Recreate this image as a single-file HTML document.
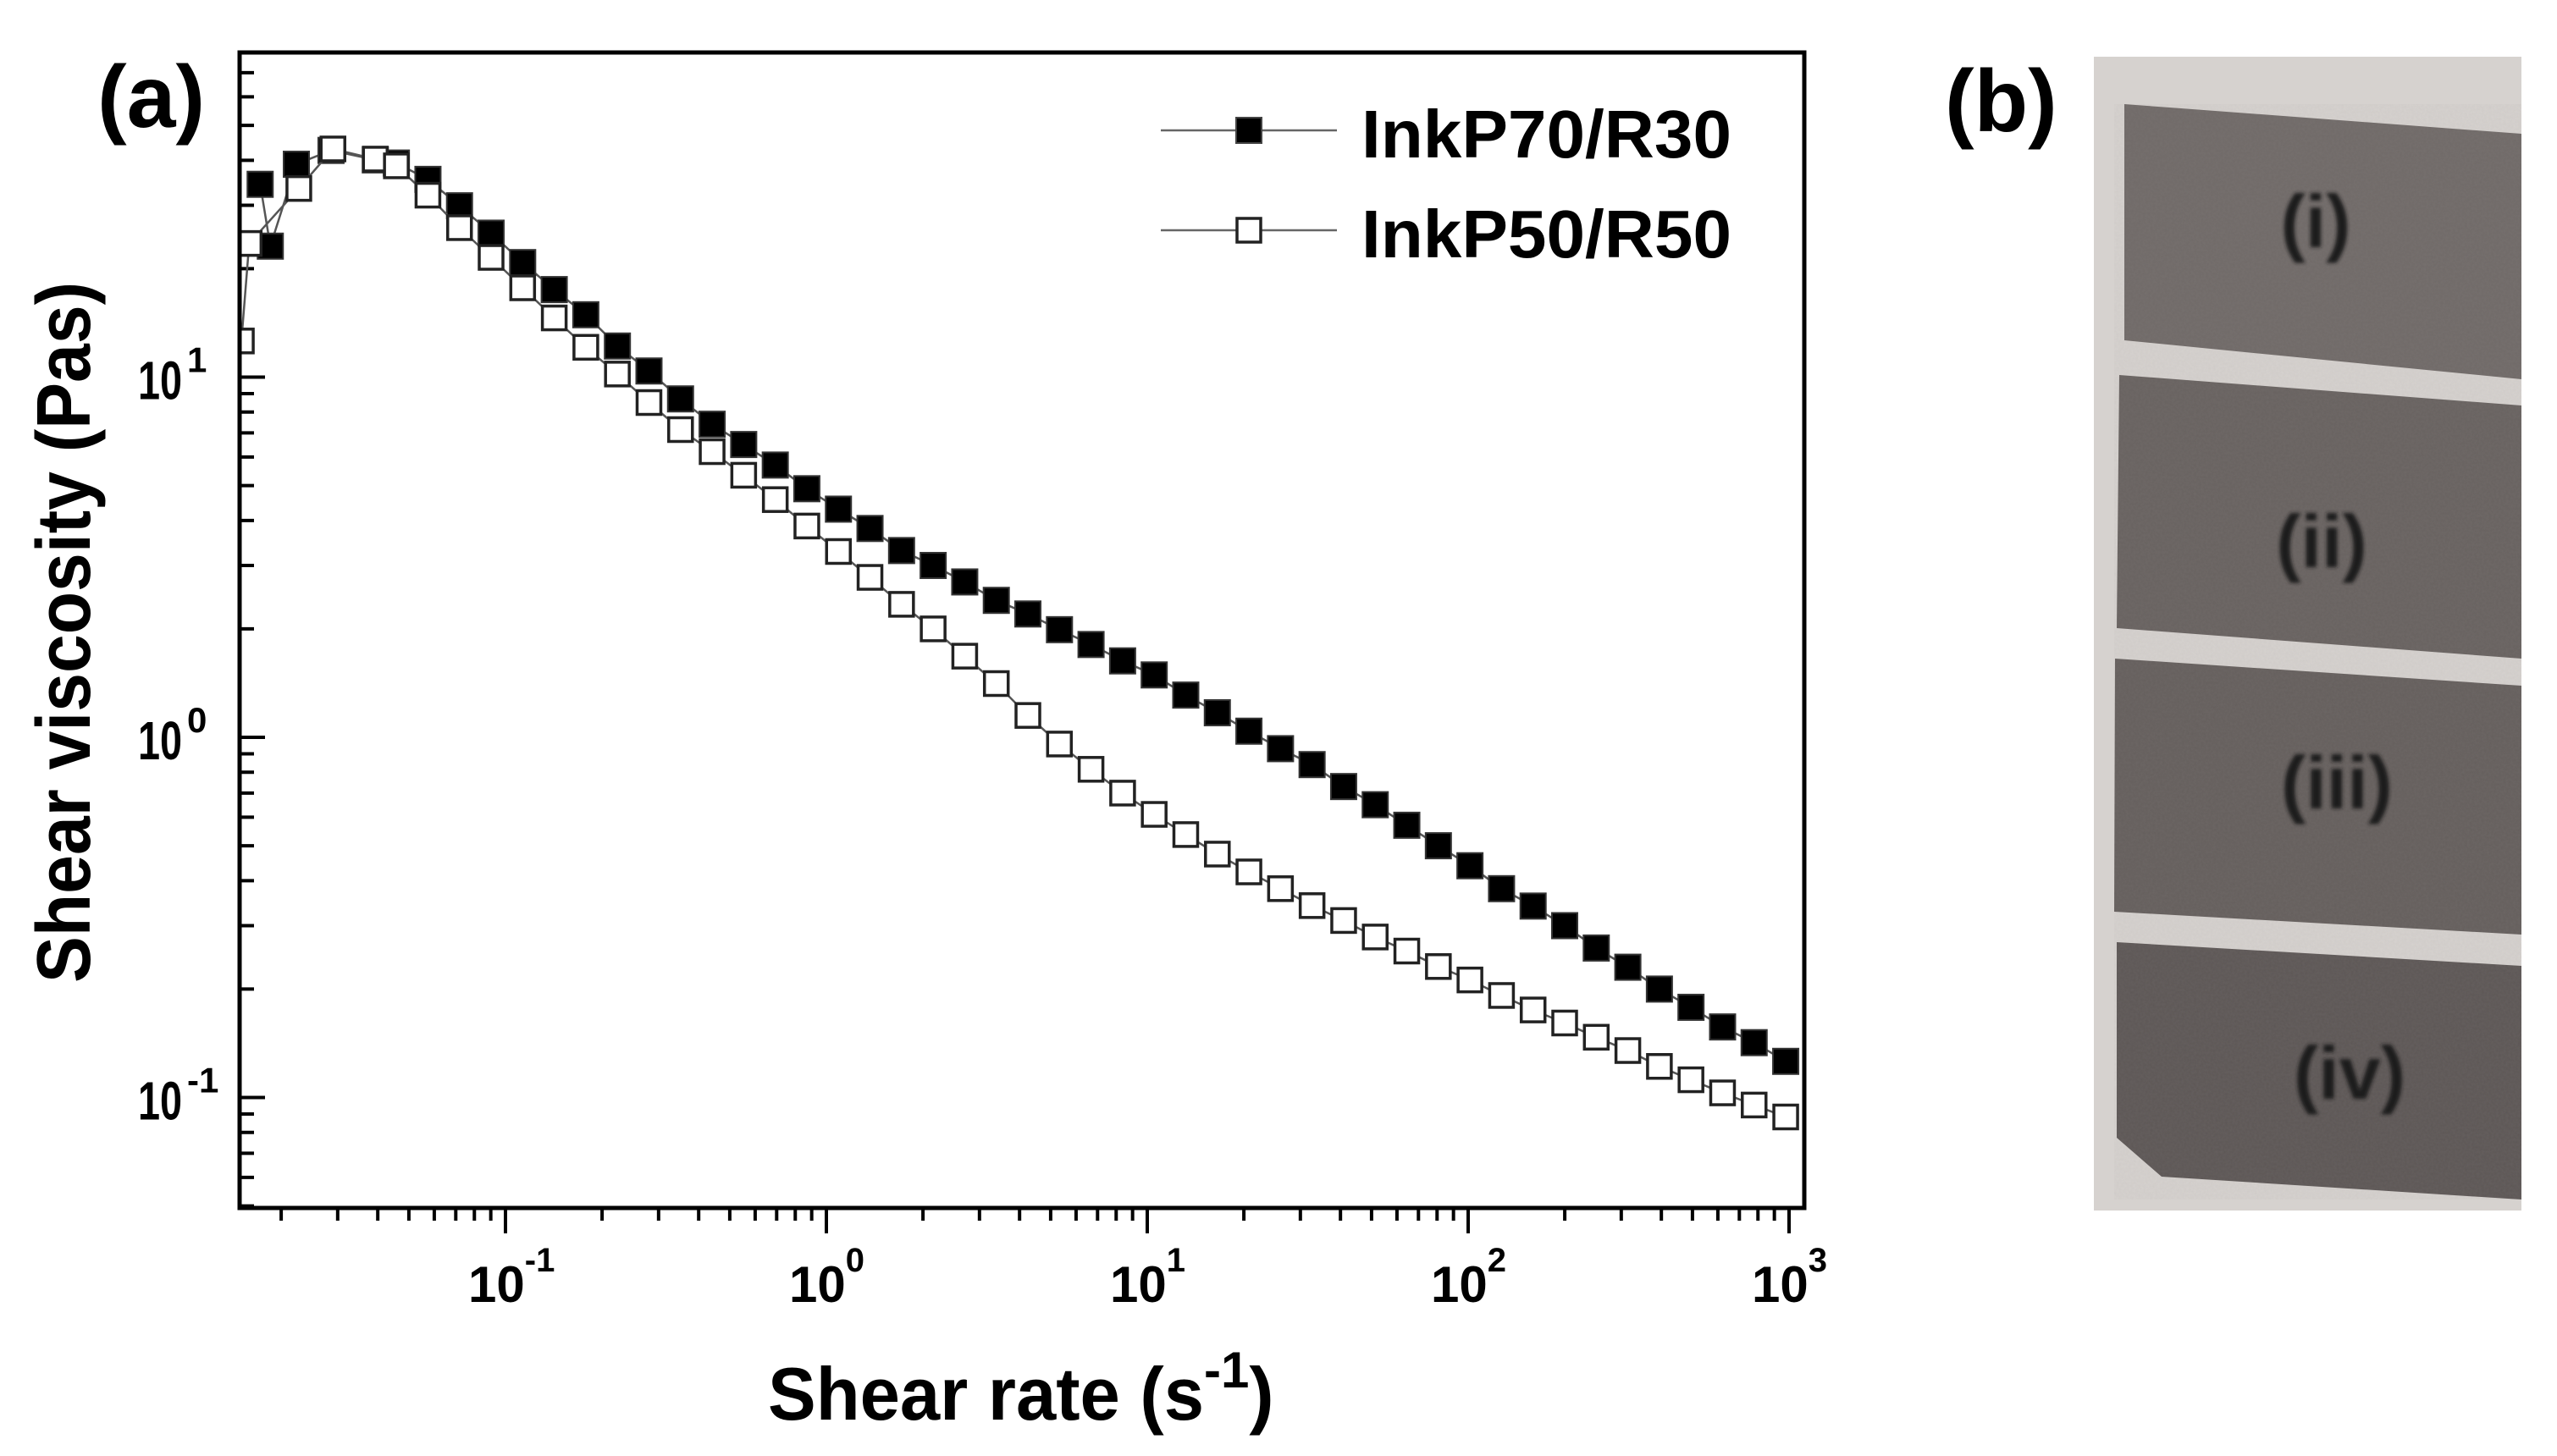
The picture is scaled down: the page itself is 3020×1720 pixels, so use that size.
<!DOCTYPE html>
<html><head><meta charset="utf-8"><style>
html,body{margin:0;padding:0;background:#fff;}
svg{display:block;font-family:"Liberation Sans",sans-serif;}
</style></head><body>
<svg id="chart" width="3020" height="1720" viewBox="0 0 3020 1720">
<defs>
<clipPath id="plotclip"><rect x="283" y="62" width="1848" height="1365"/></clipPath>
<filter id="blur1"><feGaussianBlur stdDeviation="2"/></filter>
<filter id="noise"><feTurbulence type="fractalNoise" baseFrequency="0.35" numOctaves="2" seed="3"/><feColorMatrix type="matrix" values="0 0 0 0 0.35  0 0 0 0 0.33  0 0 0 0 0.32  0 0 0 0.5 0"/><feComposite in2="SourceGraphic" operator="in"/></filter>
</defs>
<g id="axes"></g>
<g id="series" clip-path="url(#plotclip)"></g>
<rect x="283" y="62" width="1848" height="1365" fill="none" stroke="#000" stroke-width="5"/>
<text x="115" y="150" font-size="104" font-weight="bold">(a)</text>
<text x="2297" y="155" font-size="104" font-weight="bold">(b)</text>
<text transform="translate(106,1161) rotate(-90)" font-size="90" font-weight="bold" textLength="828" lengthAdjust="spacingAndGlyphs">Shear viscosity (Pas)</text>
<text x="907" y="1677" font-size="88" font-weight="bold"><tspan textLength="515" lengthAdjust="spacingAndGlyphs">Shear rate (s</tspan><tspan font-size="60" dy="-38">-1</tspan><tspan dy="38">)</tspan></text>
<g>
<g>
<line x1="1371" y1="154" x2="1579" y2="154" stroke="#666" stroke-width="2.5"/>
<rect x="1460" y="139" width="30" height="30" fill="#000" stroke="#444" stroke-width="2"/>
<text x="1608" y="186" font-size="80" font-weight="bold" textLength="437" lengthAdjust="spacingAndGlyphs">InkP70/R30</text>
</g>
<g>
<line x1="1371" y1="272" x2="1579" y2="272" stroke="#666" stroke-width="2.5"/>
<rect x="1461" y="258" width="28" height="28" fill="#fff" stroke="#222" stroke-width="3.5"/>
<text x="1608" y="304" font-size="80" font-weight="bold" textLength="437" lengthAdjust="spacingAndGlyphs">InkP50/R50</text>
</g>
</g>
<g>
<rect x="2473" y="67" width="505" height="1363" fill="#d6d2cf"/>
<polygon points="2509,123 2978,158 2978,448 2509,402" fill="#706a68"/>
<polygon points="2503,443 2978,479 2978,778 2500,742" fill="#686260"/>
<polygon points="2498,778 2978,810 2978,1104 2497,1077" fill="#655f5d"/>
<polygon points="2500,1113 2978,1141 2978,1417 2553,1390 2500,1344" fill="#5d5756"/>
<rect x="2497" y="123" width="481" height="1294" fill="#fff" filter="url(#noise)" opacity="0.25"/>
<g font-size="88" font-weight="bold" fill="#1a1a1a" text-anchor="middle" filter="url(#blur1)">
<text x="2735" y="292">(i)</text>
<text x="2742" y="670">(ii)</text>
<text x="2760" y="955">(iii)</text>
<text x="2775" y="1298">(iv)</text>
</g>
</g>
</svg>
<script>
const earlyRateFilled = [0.0172, 0.0185, 0.0223, 0.0286, 0.0393];
const earlyViscFilled = [34.3, 23.1, 39.0, 42.6, 40.1];
const earlyRateOpen = [0.01503, 0.0159, 0.0227, 0.029, 0.0393];
const earlyViscOpen = [12.6, 23.5, 33.4, 43.0, 40.3];
const gridStartLog = -1.34;
const gridStepLog = 0.0984;
const viscP70 = [39.3,35.4,29.9,25.1,20.8,17.5,14.9,12.2,10.4,8.7,7.4,6.5,5.7,4.9,4.3,3.8,3.3,3.0,2.7,2.4,2.2,1.99,1.81,1.63,1.49,1.31,1.17,1.04,0.93,0.84,0.73,0.65,0.57,0.50,0.44,0.38,0.34,0.30,0.26,0.23,0.20,0.178,0.157,0.142,0.126];
const viscP50 = [38.6,32.0,26.0,21.5,17.7,14.6,12.1,10.2,8.5,7.15,6.21,5.34,4.57,3.86,3.28,2.78,2.34,2.00,1.68,1.41,1.15,0.958,0.815,0.700,0.611,0.537,0.474,0.423,0.380,0.341,0.310,0.279,0.255,0.231,0.212,0.192,0.175,0.161,0.147,0.135,0.122,0.112,0.103,0.0953,0.0883];
const xMajorTicks = [0.1, 1, 10, 100, 1000];
const xTickExponents = ["-1", "0", "1", "2", "3"];
const yMajorTicks = [0.1, 1, 10];
const yTickExponents = ["-1", "0", "1"];

const NS = "http://www.w3.org/2000/svg";
const X0 = 976, XD = 379, Y0 = 871, YD = 425.5;
const XMIN = 283, XMAX = 2131, YMIN = 62, YMAX = 1427;
function xs(v){ return X0 + XD*Math.log10(v); }
function ys(v){ return Y0 - YD*Math.log10(v); }
function mk(tag, attrs, parent){
  const e = document.createElementNS(NS, tag);
  for (const k in attrs) e.setAttribute(k, attrs[k]);
  parent.appendChild(e);
  return e;
}
const axes = document.getElementById('axes');
const series = document.getElementById('series');

for (let d = -2; d <= 3; d++) {
  for (let m = 1; m <= 9; m++) {
    const v = m * Math.pow(10, d);
    const x = xs(v);
    if (x < XMIN + 2 || x > XMAX - 2) continue;
    const major = (m === 1);
    const t = mk('line', {x1:x, y1:YMAX, x2:x, y2:YMAX + (major?30:15), stroke:'#000', 'stroke-width':4}, axes);
    
    
  }
}
xMajorTicks.forEach((v, i) => {
  const x = xs(v);
  const t = mk('text', {x:x-44, y:1538, 'font-size':60, 'font-weight':'bold'}, axes);
  
  
  const a = mk('tspan', {}, t); a.textContent = '10';
  const b = mk('tspan', {dy:-36, 'font-size':40}, t); b.textContent = xTickExponents[i];
});
for (let d = -2; d <= 1; d++) {
  for (let m = 1; m <= 9; m++) {
    const v = m * Math.pow(10, d);
    const y = ys(v);
    if (y < YMIN + 2 || y > YMAX - 2) continue;
    const major = (m === 1);
    const t = mk('line', {x1:XMIN, y1:y, x2:XMIN + (major?30:17), y2:y, stroke:'#000', 'stroke-width':4}, axes);
    
    
  }
}
yMajorTicks.forEach((v, i) => {
  const y = ys(v);
  const t = mk('text', {x:163, y:y+26, 'font-size':64, 'font-weight':'bold'}, axes);
  
  
  const a = mk('tspan', {textLength:52, lengthAdjust:'spacingAndGlyphs'}, t); a.textContent = '10';
  const b = mk('tspan', {dx:6, dy:-32, 'font-size':42}, t); b.textContent = yTickExponents[i];
});

function buildRates(early, n){
  const r = early.slice();
  for (let k = 0; k < n; k++) r.push(Math.pow(10, gridStartLog + k*gridStepLog));
  return r;
}
const rateFilled = buildRates(earlyRateFilled, viscP70.length);
const valFilled = earlyViscFilled.concat(viscP70);
const rateOpen = buildRates(earlyRateOpen, viscP50.length);
const valOpen = earlyViscOpen.concat(viscP50);

function drawSeries(rates, vals, filled, name){
  const g = mk('g', {}, series);
  
  
  const pts = rates.map((r,i)=> xs(r).toFixed(1)+','+ys(vals[i]).toFixed(1)).join(' ');
  const pl = mk('polyline', {points:pts, fill:'none', stroke:'#555', 'stroke-width':2.5}, g);
  
  
  rates.forEach((r,i)=>{
    const x = xs(r), y = ys(vals[i]);
    const s = filled
      ? mk('rect', {x:x-15, y:y-15, width:30, height:30, fill:'#000', stroke:'#333', 'stroke-width':2}, g)
      : mk('rect', {x:x-14, y:y-14, width:28, height:28, fill:'#fff', stroke:'#222', 'stroke-width':3.5}, g);
    
    
  });
}
drawSeries(rateFilled, valFilled, true, 'series-inkp70-r30');
drawSeries(rateOpen, valOpen, false, 'series-inkp50-r50');
</script>
</body></html>
